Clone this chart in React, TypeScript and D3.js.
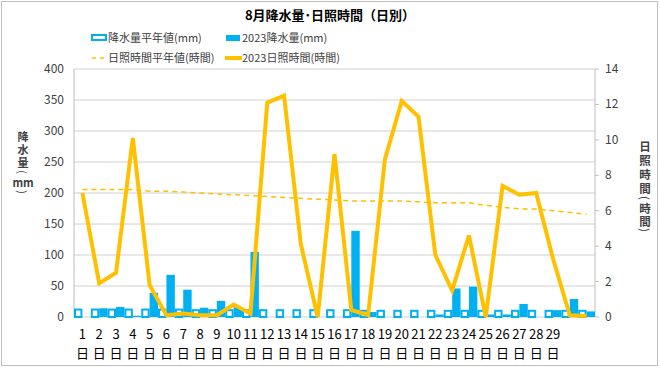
import React from 'react';
import * as d3 from 'd3';

// 8月 日別データ
const days = d3.range(1, 32);
const dayLabels = days.map(d => (d <= 29 ? String(d) : ''));
const rainNormal = [12, 12, 12, 12, 12, 12, 12, 11, 11, 11, 11, 11, 11, 11, 11, 11, 11, 10, 10, 10, 10, 10, 10, 10, 10, 10, 10, 10, 10, 10, 10];
const rain2023 = [0, 14, 16, 2, 39, 68, 44, 15, 26, 16, 105, 0, 0, 0, 0, 0, 139, 8, 0, 0, 0, 4, 46, 49, 4, 4, 21, 0, 11, 29, 9];
const sunNormal = [7.2, 7.2, 7.2, 7.2, 7.1, 7.1, 7.05, 7.0, 6.95, 6.9, 6.85, 6.8, 6.75, 6.7, 6.65, 6.6, 6.55, 6.55, 6.55, 6.55, 6.5, 6.45, 6.45, 6.45, 6.3, 6.2, 6.1, 6.1, 6.0, 5.9, 5.8];
const sun2023 = [7.0, 1.9, 2.5, 10.1, 1.8, 0.1, 0.2, 0.1, 0.1, 0.7, 0.2, 12.1, 12.5, 4.1, 0, 9.2, 0.4, 0.1, 8.9, 12.2, 11.3, 3.5, 1.5, 4.6, 0, 7.4, 6.9, 7.0, 3.3, 0.1, 0.05];
const leftTicks = d3.range(0, 401, 50);
const rightTicks = d3.range(0, 15, 2);

// 縦書きの軸タイトル（文字, 中心y, 回転するか）
const leftTitle: [string, number, boolean][] = [['降', 136, false], ['水', 149, false], ['量', 162, false], ['(', 172, true], ['mm', 182, false], [')', 192, true]];
const rightTitle: [string, number, boolean][] = [['日', 146, false], ['照', 160, false], ['時', 174, false], ['間', 188, false], ['(', 198, true], ['時', 208, false], ['間', 221, false], [')', 230, true]];

const BLUE = '#00B0F0';
const GOLD = '#FFC000';
const FONT = '"Noto Sans CJK JP", "Noto Sans", sans-serif';

// 1つのtextの中に1文字ずつtspanで縦に並べる（括弧は90度回転）
const VText = ({ items, x, size }: { items: [string, number, boolean][]; x: number; size: number }) => {
  const upright = items.filter(it => !it[2]);
  const rotated = items.filter(it => it[2]);
  return (
    <g fontSize={size} fill="#404040" textAnchor="middle">
      <text fontWeight="bold" dominantBaseline="central">
        {upright.map(([c, y], i) => (
          <tspan key={i} x={x} y={y}>{c}</tspan>
        ))}
      </text>
      {rotated.map(([c, y], i) => (
        <text key={i} x={x} y={y} dominantBaseline="central" transform={`rotate(90 ${x} ${y})`}>{c}</text>
      ))}
    </g>
  );
};

const App = () => {
  const W = 660, H = 369;
  const plot = { left: 74, right: 595, top: 69, bottom: 317 };

  const x = d3.scaleBand<number>().domain(days).range([plot.left, plot.right]).padding(0);
  const yL = d3.scaleLinear().domain([0, 400]).range([plot.bottom, plot.top]);
  const yR = d3.scaleLinear().domain([0, 14]).range([plot.bottom, plot.top]);
  const bw = x.bandwidth();
  const cx = (d: number) => (x(d) as number) + bw / 2;

  const line = d3.line<number>().x((v, i) => cx(days[i])).y(v => yR(v));

  return (
    <svg width={W} height={H} style={{ position: 'absolute', left: 0, top: 0, fontFamily: FONT }}>
      <rect x={0} y={0} width={W} height={H} fill="#fff" />
      <rect x={1.5} y={1.5} width={656} height={364} fill="none" stroke="#BFBFBF" />

      <text x={330} y={20} textAnchor="middle" fontSize={13} fontWeight="bold" fill="#000">
        8月降水量･日照時間（日別）
      </text>

      {/* legend */}
      <g fontSize={11} fill="#404040">
        <rect x={92} y={35} width={14} height={5} fill="#fff" stroke={BLUE} strokeWidth={2} />
        <text x={108} y={42}>降水量平年値(mm)</text>
        <rect x={226} y={35} width={14} height={6} fill={BLUE} />
        <text x={242} y={42}>2023降水量(mm)</text>
        <line x1={92} x2={107} y1={58} y2={58} stroke={GOLD} strokeWidth={1.5} strokeDasharray="4,4" />
        <text x={108} y={62}>日照時間平年値(時間)</text>
        <line x1={225} x2={242} y1={58} y2={58} stroke={GOLD} strokeWidth={4} />
        <text x={242} y={62}>2023日照時間(時間)</text>
      </g>

      {/* grid */}
      {leftTicks.map(t => (
        <line key={t} x1={plot.left} x2={plot.right} y1={yL(t)} y2={yL(t)} stroke="#D0D0D0" strokeWidth={1} />
      ))}
      <line x1={plot.left} x2={plot.left} y1={plot.top} y2={plot.bottom} stroke="#BFBFBF" />
      <line x1={plot.right} x2={plot.right} y1={plot.top} y2={plot.bottom} stroke="#BFBFBF" />
      {rightTicks.map(t => (
        <line key={t} x1={plot.right} x2={plot.right + 4} y1={yR(t)} y2={yR(t)} stroke="#BFBFBF" />
      ))}

      {/* axis labels */}
      <g fontSize={12} fill="#404040">
        {leftTicks.map(t => (
          <text key={t} x={64} y={yL(t) + 4} textAnchor="end">{t}</text>
        ))}
        {rightTicks.map(t => (
          <text key={t} x={605} y={yR(t) + 4}>{t}</text>
        ))}
      </g>

      <VText items={leftTitle} x={23} size={11} />
      <VText items={rightTitle} x={645} size={11.5} />

      {/* bars */}
      {days.map((d, i) => (
        <g key={d}>
          <rect x={(x(d) as number) + 1} y={yL(rainNormal[i])} width={bw / 2 - 2} height={plot.bottom - yL(rainNormal[i])}
            fill="#fff" stroke={BLUE} strokeWidth={2} />
          {rain2023[i] > 0 && (
            <rect x={(x(d) as number) + bw / 2} y={yL(rain2023[i])} width={bw / 2} height={plot.bottom - yL(rain2023[i])} fill={BLUE} />
          )}
        </g>
      ))}

      {/* lines */}
      <path d={line(sunNormal) || ''} fill="none" stroke={GOLD} strokeWidth={1.5} strokeDasharray="5,4" />
      <path d={line(sun2023) || ''} fill="none" stroke={GOLD} strokeWidth={4} strokeLinejoin="miter" />

      {/* x labels */}
      <g fontSize={13} fill="#000" textAnchor="middle">
        {days.map((d, i) => (
          <g key={d}>
            <text x={cx(d)} y={339}>{dayLabels[i]}</text>
            {dayLabels[i] && <text x={cx(d)} y={358}>日</text>}
          </g>
        ))}
      </g>
    </svg>
  );
};

export default App;
